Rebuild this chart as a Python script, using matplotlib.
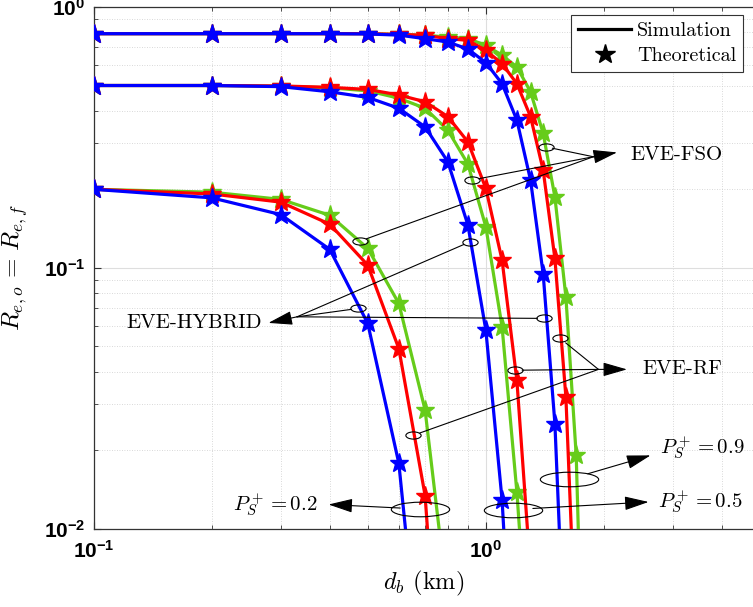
import math
import matplotlib
matplotlib.use("Agg")
import matplotlib.pyplot as plt
from matplotlib.path import Path
from matplotlib.transforms import Affine2D
from matplotlib.lines import Line2D
from matplotlib.ticker import LogLocator, FuncFormatter, NullFormatter

plt.rcParams['mathtext.fontset'] = 'custom'
plt.rcParams['mathtext.bf'] = 'Liberation Sans:bold'
plt.rcParams['mathtext.rm'] = 'Liberation Sans'

# distance d_b (km), one point every 0.1 km
d_b = [0.1, 0.2, 0.3, 0.4, 0.5, 0.6, 0.7, 0.8, 0.9, 1.0,
       1.1, 1.2, 1.3, 1.4, 1.5, 1.6, 1.7, 1.8]

# P_S^+ = 0.2
p02_green = [0.2, 0.195, 0.183, 0.159, 0.1187, 0.073, 0.0285, 0.0052]
p02_red = [0.2, 0.192, 0.1786, 0.147, 0.1024, 0.049, 0.0134, 0.0008]
p02_blue = [0.2, 0.1855, 0.160, 0.1177, 0.0612, 0.0178, 0.0018]

# P_S^+ = 0.5
p05_green = [0.5, 0.5, 0.497, 0.49, 0.477, 0.447, 0.409, 0.337, 0.25,
             0.1436, 0.0594, 0.0138, 0.0025]
p05_red = [0.5, 0.5, 0.498, 0.492, 0.483, 0.46, 0.433, 0.38, 0.304,
           0.2017, 0.107, 0.037, 0.0068]
p05_blue = [0.5, 0.5, 0.495, 0.473, 0.45, 0.409, 0.347, 0.255, 0.146,
            0.0577, 0.0129, 0.0013]

# P_S^+ = 0.9
p09_green = [0.79, 0.79, 0.79, 0.79, 0.79, 0.785, 0.779, 0.767, 0.756,
             0.713, 0.653, 0.589, 0.473, 0.328, 0.187, 0.0774, 0.0191, 0.0009]
p09_red = [0.79, 0.79, 0.79, 0.79, 0.79, 0.785, 0.779, 0.756, 0.745,
           0.682, 0.606, 0.508, 0.38, 0.237, 0.1086, 0.032, 0.0034]
p09_blue = [0.79, 0.79, 0.79, 0.79, 0.788, 0.78, 0.756, 0.734, 0.69,
            0.612, 0.508, 0.368, 0.217, 0.095, 0.0253, 0.0025]

GREEN = '#66cc1a'
RED = '#ff0000'
BLUE = '#0000ff'

# annotation anchors (data coords)
fso_ellipses = [(1.42, 0.291), (0.92, 0.217), (0.477, 0.1265)]
fso_join, fso_tip, fso_text = (1.88, 0.2666), (2.16, 0.277), (2.33, 0.27)
hyb_ellipses = [(0.473, 0.0699), (0.912, 0.1259), (1.41, 0.064)]
hyb_join, hyb_tip, hyb_text = (0.33, 0.0649), (0.279, 0.0615), (0.268, 0.0615)
rf_ellipses = [(1.548, 0.0536), (1.188, 0.0405), (0.653, 0.0228)]
rf_join, rf_tip, rf_text = (1.937, 0.0408), (2.29, 0.0408), (2.50, 0.0408)

p_groups = [
    # label, ellipse centre, arrow tip, text pos, text alignment
    (r'$P_S^+ = 0.9$', (1.63, 0.01547), (2.63, 0.0191), (2.78, 0.0205), 'left'),
    (r'$P_S^+ = 0.5$', (1.176, 0.01184), (2.6, 0.01266), (2.75, 0.0127), 'left'),
    (r'$P_S^+ = 0.2$', (0.678, 0.0119), (0.397, 0.01238), (0.373, 0.01238), 'right'),
]

fig = plt.figure(figsize=(7.53, 6.07), dpi=100)
ax = fig.add_axes([0.1244, 0.129, 0.8756, 0.8595])

groups = [(p02_green, p02_red, p02_blue),
          (p05_green, p05_red, p05_blue),
          (p09_green, p09_red, p09_blue)]
for g, r, b in groups:
    for ys, col in [(g, GREEN), (r, RED), (b, BLUE)]:
        ax.plot(d_b[:len(ys)], ys, color=col, lw=2.3, marker='*', ms=14,
                mfc=col, mec=col, zorder=3)

ax.set_xscale('log')
ax.set_yscale('log')
ax.set_xlim(0.1, 4.8)
ax.set_ylim(0.01, 1)

ax.xaxis.set_major_locator(LogLocator(base=10, numticks=10))
ax.yaxis.set_major_locator(LogLocator(base=10, numticks=10))
ax.xaxis.set_minor_locator(LogLocator(base=10, subs=range(2, 10), numticks=20))
ax.yaxis.set_minor_locator(LogLocator(base=10, subs=range(2, 10), numticks=20))
fmt = FuncFormatter(lambda v, p: r'$\mathbf{10^{%d}}$' % round(math.log10(v)))
ax.xaxis.set_major_formatter(fmt)
ax.yaxis.set_major_formatter(fmt)
ax.xaxis.set_minor_formatter(NullFormatter())
ax.yaxis.set_minor_formatter(NullFormatter())
ax.tick_params(which='both', direction='in', top=True, right=False,
               labelsize=15, color='0.2')
ax.tick_params(which='major', length=5)
ax.tick_params(which='minor', length=3)
ax.tick_params(axis='x', pad=8)
ax.tick_params(axis='y', pad=6)

ax.grid(True, which='major', color='0.87', lw=0.8, ls='-')
ax.grid(True, which='minor', color='0.8', lw=0.6, ls=(0, (1, 2)))
ax.set_axisbelow(True)
ax.spines['right'].set_visible(False)
for s in ['left', 'bottom', 'top']:
    ax.spines[s].set_color('0.2')
    ax.spines[s].set_linewidth(0.9)

ax.set_xlabel(r'$d_b$ (km)', fontsize=17.5, math_fontfamily='cm',
              fontfamily='cmr10', labelpad=5)
ax.set_ylabel(r'$R_{e,o}\, = \,R_{e,f}$', fontsize=18, math_fontfamily='cm',
              labelpad=10)

# ellipse markers
small_ell = Path.unit_circle().transformed(Affine2D().scale(1, 0.47))
big_ell = Path.unit_circle().transformed(Affine2D().scale(1, 0.25))

head = '-|>,head_length=1.25,head_width=0.36'
line_kw = dict(arrowstyle='-', color='k', lw=0.8, shrinkA=0, shrinkB=5)
arrow_kw = dict(arrowstyle=head, color='k', lw=0.8, shrinkA=0, shrinkB=0,
                mutation_scale=12)

for ells, join, tip, tpos, label, ha in [
        (fso_ellipses, fso_join, fso_tip, fso_text, 'EVE-FSO', 'left'),
        (hyb_ellipses, hyb_join, hyb_tip, hyb_text, 'EVE-HYBRID', 'right'),
        (rf_ellipses, rf_join, rf_tip, rf_text, 'EVE-RF', 'left')]:
    for e in ells:
        ax.plot([e[0]], [e[1]], marker=small_ell, ms=11, mfc='none', mec='k',
                mew=0.8, ls='none', zorder=5)
        ax.annotate('', xy=e, xytext=join, arrowprops=line_kw, zorder=5)
    ax.annotate('', xy=tip, xytext=join, arrowprops=arrow_kw, zorder=5)
    ax.text(tpos[0], tpos[1], label, fontfamily='cmr10', fontsize=15,
            ha=ha, va='center', zorder=6)

for label, e, tip, tpos, ha in p_groups:
    ax.plot([e[0]], [e[1]], marker=big_ell, ms=42, mfc='none', mec='k',
            mew=0.8, ls='none', zorder=5)
    ax.annotate('', xy=tip, xytext=e,
                arrowprops=dict(arrowstyle=head, color='k', lw=0.8,
                                shrinkA=14, shrinkB=0, mutation_scale=12),
                zorder=5)
    ax.text(tpos[0], tpos[1], label, fontsize=15, math_fontfamily='cm',
            ha=ha, va='center', zorder=6)

handles = [Line2D([], [], color='k', lw=2.3),
           Line2D([], [], color='k', ls='none', marker='*', ms=15)]
leg = ax.legend(handles, ['Simulation', 'Theoretical'], loc='upper right',
                bbox_to_anchor=(0.985, 0.985), borderaxespad=0,
                prop={'family': 'cmr10', 'size': 14.5}, fancybox=False,
                framealpha=1, edgecolor='0.2', handlelength=2.6,
                handletextpad=0.3, borderpad=0.35, labelspacing=0.35)
leg.get_frame().set_linewidth(0.8)

fig.savefig('out.png', dpi=100)
